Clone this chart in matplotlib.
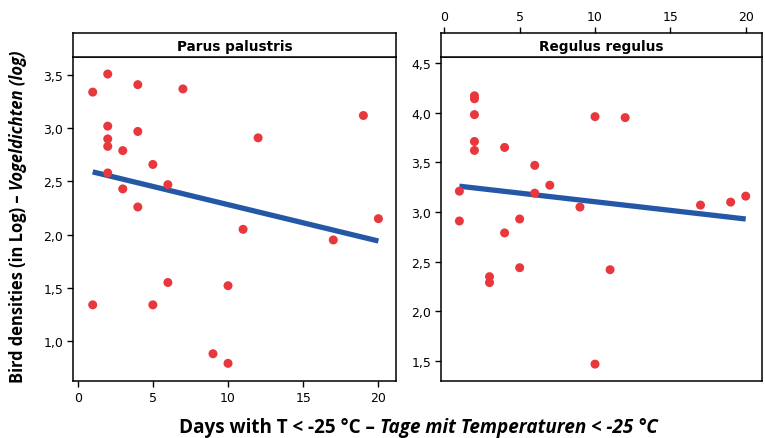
#!/usr/bin/env python
"""Bird densities vs. number of very cold days, two species panels."""

import matplotlib.pyplot as plt

# Parus palustris
parus_days = [1, 2, 4, 7, 19, 2, 4, 2, 2, 3, 12, 5, 2, 6, 3, 4, 20, 11, 17, 1, 5, 6, 10, 9, 10]
parus_density = [3.34, 3.51, 3.41, 3.37, 3.12, 3.02, 2.97, 2.90, 2.83, 2.79, 2.91, 2.66, 2.58,
                 2.47, 2.43, 2.26, 2.15, 2.05, 1.95, 1.34, 1.34, 1.55, 1.52, 0.88, 0.79]
parus_fit_x = [1, 20]
parus_fit_y = [2.59, 1.94]

# Regulus regulus
regulus_days = [1, 2, 2, 2, 2, 2, 4, 10, 12, 6, 7, 6, 9, 17, 19, 20, 1, 5, 4, 5, 3, 3, 11, 10]
regulus_density = [3.21, 4.17, 4.14, 3.98, 3.71, 3.62, 3.65, 3.96, 3.95, 3.47, 3.27, 3.19, 3.05,
                   3.07, 3.10, 3.16, 2.91, 2.93, 2.79, 2.44, 2.35, 2.29, 2.42, 1.47]
regulus_fit_x = [1, 20]
regulus_fit_y = [3.26, 2.93]

x_ticks = [0, 5, 10, 15, 20]
parus_yticks = [1.0, 1.5, 2.0, 2.5, 3.0, 3.5]
regulus_yticks = [1.5, 2.0, 2.5, 3.0, 3.5, 4.0, 4.5]

RED = "#e8383d"
BLUE = "#2557a7"
W, H = 765, 439


def fmt(values):
    return [f"{v:.1f}".replace(".", ",") for v in values]


def frac_box(x0, y0, x1, y1):
    # pixel box (top-left origin) -> figure fraction rect
    return [x0 / W, 1 - y1 / H, (x1 - x0) / W, (y1 - y0) / H]


fig = plt.figure(figsize=(W / 100, H / 100), dpi=100)
plt.rcParams["font.family"] = "DejaVu Sans"

panels = [
    ("Parus palustris", parus_days, parus_density, parus_fit_x, parus_fit_y,
     parus_yticks, (0.624, 3.67), (-0.31, 21.17), (73, 396), "bottom"),
    ("Regulus regulus", regulus_days, regulus_density, regulus_fit_x, regulus_fit_y,
     regulus_yticks, (1.30, 4.56), (-0.22, 21.08), (441, 762), "top"),
]

for title, xs, ys, fx, fy, yticks, ylim, xlim, (px0, px1), xside in panels:
    ax = fig.add_axes(frac_box(px0, 58, px1, 382))
    strip = fig.add_axes(frac_box(px0, 34, px1, 58))

    ax.scatter(xs, ys, s=42, color=RED, edgecolor="none", zorder=3)
    ax.plot(fx, fy, color=BLUE, linewidth=3.8, solid_capstyle="butt", zorder=2)
    ax.set_xlim(*xlim)
    ax.set_ylim(*ylim)
    ax.set_yticks(yticks)
    ax.set_yticklabels(fmt(yticks))
    ax.tick_params(axis="y", labelsize=9, length=4, width=1, pad=3)
    for spine in ax.spines.values():
        spine.set_linewidth(1.1)

    strip.set_xlim(*xlim)
    strip.set_yticks([])
    for spine in strip.spines.values():
        spine.set_linewidth(1.1)
    strip.text(0.5, 0.45, title, transform=strip.transAxes, ha="center", va="center",
               fontsize=9.8, fontweight="bold")

    if xside == "bottom":
        ax.set_xticks(x_ticks)
        ax.tick_params(axis="x", labelsize=9, length=4, width=1, pad=3)
        strip.set_xticks([])
    else:
        ax.set_xticks([])
        strip.set_xticks(x_ticks)
        strip.xaxis.tick_top()
        strip.tick_params(axis="x", labelsize=9, length=4, width=1, pad=3)

# axis labels: upright bold part followed by bold italic part
label_font = "Open Sans"
renderer = fig.canvas.get_renderer()

xa = fig.text(0, 0, "Days with T < -25 °C \u2013 ", fontsize=13.6, fontweight="bold",
              family=label_font, va="baseline")
xb = fig.text(0, 0, "Tage mit Temperaturen < -25 °C", fontsize=13.6, fontweight="bold",
              style="italic", family=label_font, va="baseline")
wa = xa.get_window_extent(renderer).width
wb = xb.get_window_extent(renderer).width
start = 418 - (wa + wb) / 2
xa.set_position((start / W, 1 - 433 / H))
xb.set_position(((start + wa) / W, 1 - 433 / H))

ya = fig.text(0, 0, "Bird densities (in Log) \u2013 ", fontsize=11.9, fontweight="bold",
              family=label_font, rotation=90, ha="center", va="bottom")
yb = fig.text(0, 0, "Vogeldichten (log)", fontsize=11.9, fontweight="bold", style="italic",
              family=label_font, rotation=90, ha="center", va="bottom")
ha_ = ya.get_window_extent(renderer).height
hb = yb.get_window_extent(renderer).height
bottom = 217 + (ha_ + hb) / 2
ya.set_position((18.5 / W, 1 - bottom / H))
yb.set_position((18.5 / W, 1 - (bottom - ha_) / H))

fig.savefig("out.png", dpi=100)
